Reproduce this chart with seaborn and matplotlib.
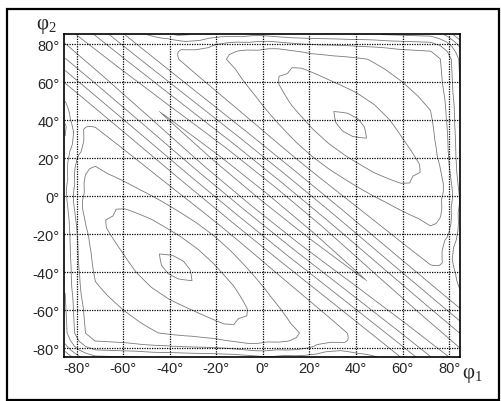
import numpy as np
import matplotlib
matplotlib.use('Agg')
import matplotlib.pyplot as plt
import seaborn as sns
from matplotlib.patches import Rectangle

sns.set_style('white')
plt.rcParams['font.family'] = ['Liberation Sans', 'DejaVu Sans']
plt.rcParams['mathtext.fontset'] = 'custom'
plt.rcParams['mathtext.rm'] = 'Liberation Serif'
plt.rcParams['axes.unicode_minus'] = False

# contour level read along the main diagonal, u = (phi1 + phi2) / 2
u_knots = [0, 1.5, 5, 7.6, 10.5, 13.5, 17, 21, 27.5, 30, 33, 35, 37.5, 40, 42, 45, 48, 52, 60, 68, 76, 85]
u_level = [9.5, 9.0, 8, 7, 6, 5, 4, 3, 2.1, 1.55, 1.11, 0.93, 0.85, 0.93, 1.11, 1.58, 2.0, 2.4, 3.0, 3.4, 3.6, 3.8]

# along the anti-diagonal, v = (phi2 - phi1) / 2
ridge_v = [0, 20, 45, 65, 85]
ridge_drop = [0, 0.1, 0.5, 0.75, 0.9]
basin_v = [0, 7, 28, 55, 85]
basin_rise = [0, 0.15, 1.2, 2.2, 3.0]

# where along u the ridge / basin / edge terms act
ridge_wu = [0, 10, 20]
ridge_w = [1, 0.4, 0]
basin_wu = [15, 37.5, 65]
basin_w = [0, 1, 0]
edge_wu = [14, 24]
edge_w = [0, 1]

# steep rise close to the +-85 deg border
edge_deg = [0, 72, 76, 79, 81, 83, 85]
edge_rise = [0, 0, 0.4, 0.9, 1.4, 2.0, 2.6]

levels = [1, 2, 3, 4, 5, 6, 7, 8, 9]
ticks = [-80, -60, -40, -20, 0, 20, 40, 60, 80]
tick_labels = ['%d°' % t for t in ticks]

phi = np.linspace(-85, 85, 341)
p1, p2 = np.meshgrid(phi, phi)
u = np.abs(p1 + p2) / 2
v = np.abs(p2 - p1) / 2
z = (np.interp(u, u_knots, u_level)
     - np.interp(u, ridge_wu, ridge_w) * np.interp(v, ridge_v, ridge_drop)
     + np.interp(u, basin_wu, basin_w) * np.interp(v, basin_v, basin_rise)
     + np.interp(u, edge_wu, edge_w) * (np.interp(np.abs(p1), edge_deg, edge_rise)
                                        + np.interp(np.abs(p2), edge_deg, edge_rise)))

fig = plt.figure(figsize=(5.01, 4.02), dpi=100)
ax = fig.add_axes([64 / 501, 1 - 358 / 402, 396 / 501, 323 / 402])
ax.contour(phi, phi, z, levels=levels, colors='#7a7a7a', linewidths=0.6)

ax.set_xlim(-85.5, 84.7)
ax.set_ylim(-84.7, 85.3)
ax.set_xticks(ticks)
ax.set_yticks(ticks)
ax.set_xticklabels(tick_labels, fontsize=10.5)
ax.set_yticklabels(tick_labels, fontsize=10.5)
ax.tick_params(length=0, pad=3)
ax.grid(True, linestyle=(0, (1, 1)), color='black', linewidth=0.9)
ax.set_axisbelow(False)
for s in ax.spines.values():
    s.set_color('black')
    s.set_linewidth(1.2)

fig.text(46 / 501, 1 - 27 / 402, r'$\mathrm{φ}_2$', fontsize=15, ha='center', va='center')
fig.text(472 / 501, 1 - 376 / 402, r'$\mathrm{φ}_1$', fontsize=15, ha='center', va='center')

fig.patches.append(Rectangle((7 / 501, 1 / 402), 492 / 501, 391 / 402, transform=fig.transFigure,
                             fill=False, edgecolor='black', linewidth=1.6))

fig.savefig('out.png', dpi=100)
